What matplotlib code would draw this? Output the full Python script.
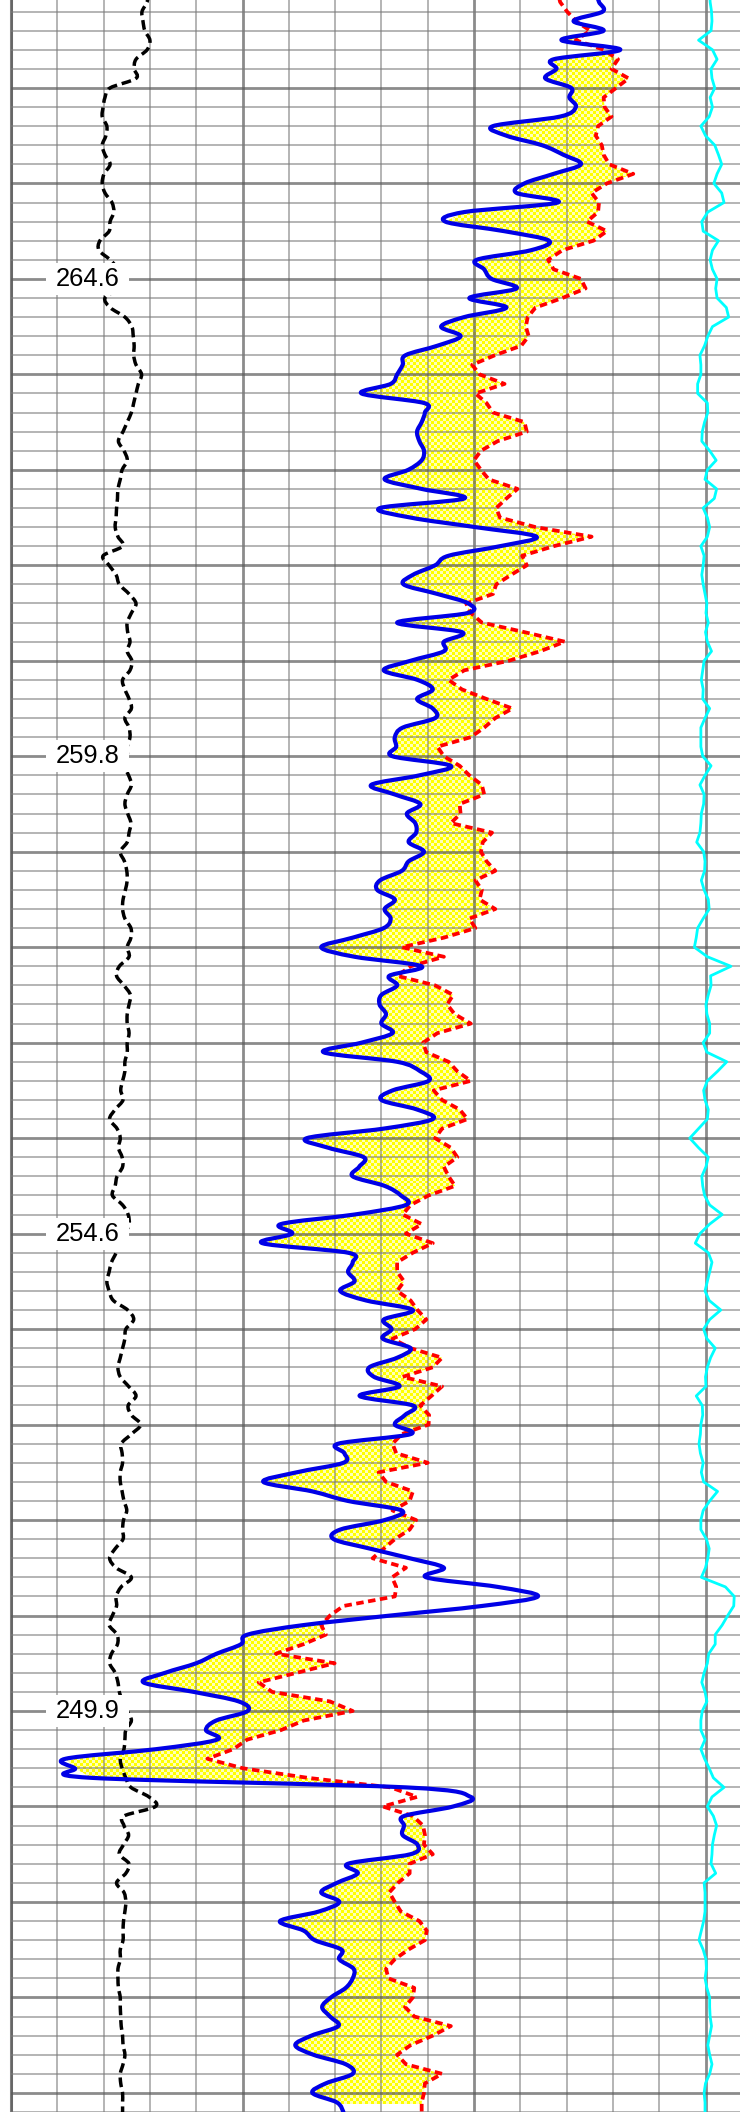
import numpy as np
import matplotlib.pyplot as plt
from matplotlib.colors import ListedColormap
from matplotlib.path import Path
from matplotlib.patches import PathPatch, Rectangle

# samples every 0.1 m, from 268.0 m at the top down to 245.8 m
top_md = 268.0
step = 0.1
n_samples = 223
depth = np.round(top_md - step * np.arange(n_samples), 1)

# curve values in track divisions (0 = left edge of the track)
blue = np.array([
    12.63, 12.70, 12.78, 12.15, 12.80, 11.89, 13.16, 11.72, 11.78, 11.54,
    12.10, 12.06, 12.20, 11.86, 10.41, 10.70, 11.47, 11.93, 12.31, 11.72,
    11.09, 10.92, 11.81, 9.79, 9.38, 10.65, 11.62, 11.23, 10.06, 10.22,
    10.38, 10.92, 9.90, 10.70, 9.79, 9.29, 9.71, 9.21, 8.52, 8.46,
    8.34, 8.20, 7.57, 8.92, 8.94, 8.87, 8.77, 8.82, 8.92, 8.87,
    8.58, 8.07, 8.87, 9.79, 7.97, 8.63, 10.03, 11.35, 10.56, 9.45,
    9.16, 8.68, 8.48, 9.21, 9.88, 9.86, 8.34, 9.74, 9.35, 9.35,
    8.63, 8.05, 8.78, 9.11, 8.77, 9.11, 9.16, 8.46, 8.29, 8.32,
    8.24, 9.50, 8.82, 7.78, 8.29, 8.84, 8.55, 8.73, 8.75, 8.59,
    8.92, 8.59, 8.44, 7.97, 7.91, 8.29, 8.07, 8.20, 8.05, 7.38,
    6.70, 7.42, 8.87, 8.17, 8.34, 8.00, 7.96, 8.10, 8.00, 8.24,
    7.57, 6.75, 8.34, 8.84, 9.02, 8.24, 8.00, 8.77, 9.11, 8.05,
    6.39, 6.85, 7.62, 7.52, 7.38, 8.07, 8.42, 8.53, 7.42, 5.83,
    6.07, 5.43, 7.28, 7.38, 7.28, 7.42, 7.11, 7.67, 8.68, 8.05,
    8.22, 8.03, 8.63, 8.34, 7.74, 7.84, 8.39, 7.53, 8.68, 8.51,
    8.29, 8.63, 7.07, 7.20, 7.18, 6.17, 5.45, 6.51, 7.28, 8.44,
    8.07, 7.11, 6.97, 7.76, 8.61, 9.35, 8.97, 10.51, 11.38, 10.17,
    8.20, 6.32, 5.11, 4.97, 4.44, 4.00, 3.33, 2.86, 3.95, 4.92,
    5.11, 4.43, 4.21, 4.45, 3.13, 1.18, 1.38, 1.74, 8.53, 9.93,
    9.55, 8.49, 8.49, 8.46, 8.78, 8.63, 7.28, 7.49, 7.04, 6.70,
    7.09, 6.65, 5.81, 6.32, 6.56, 7.14, 7.09, 7.40, 7.38, 7.23,
    6.91, 6.72, 6.89, 7.07, 6.49, 6.14, 6.53, 7.23, 7.38, 6.80,
    6.51, 7.04, 7.18])

red = np.array([
    11.81, 11.86, 12.01, 12.20, 12.51, 12.20, 12.80, 13.11, 12.97, 13.34,
    13.07, 12.80, 12.82, 12.97, 12.68, 12.63, 12.76, 12.80, 12.92, 13.44,
    12.87, 12.54, 12.70, 12.68, 12.44, 12.87, 12.58, 11.91, 11.60, 11.72,
    12.31, 12.41, 11.91, 11.33, 11.16, 11.12, 11.18, 11.02, 10.45, 9.96,
    10.12, 10.66, 10.03, 10.27, 10.41, 11.09, 11.14, 10.51, 10.15, 10.00,
    10.15, 10.32, 10.94, 10.70, 10.48, 10.56, 11.33, 12.54, 11.72, 11.04,
    11.14, 10.80, 10.48, 10.41, 9.83, 9.93, 10.17, 11.09, 11.96, 11.43,
    10.75, 9.79, 9.45, 9.74, 10.27, 10.83, 10.46, 10.22, 9.93, 9.21,
    9.35, 9.69, 9.90, 10.17, 10.22, 9.69, 9.71, 9.50, 10.39, 10.19,
    10.15, 10.27, 10.46, 10.03, 10.17, 10.12, 10.46, 9.90, 10.03, 9.35,
    8.44, 9.35, 8.63, 8.34, 9.16, 9.55, 9.42, 9.58, 9.93, 9.21,
    8.90, 8.97, 9.45, 9.64, 9.93, 9.13, 9.31, 9.69, 9.86, 9.31,
    9.16, 9.50, 9.64, 9.35, 9.45, 9.59, 9.02, 8.63, 8.46, 8.87,
    8.53, 9.11, 8.68, 8.34, 8.34, 8.49, 8.34, 8.63, 8.78, 8.97,
    8.73, 8.24, 8.63, 9.31, 9.11, 8.46, 9.31, 9.08, 8.84, 9.03,
    9.02, 8.44, 8.24, 8.32, 9.00, 7.94, 8.10, 8.68, 8.61, 8.24,
    8.75, 8.61, 8.29, 8.05, 7.81, 8.53, 8.23, 8.32, 8.29, 7.18,
    6.89, 6.70, 6.80, 6.32, 5.72, 6.99, 6.17, 5.35, 5.64, 6.89,
    7.38, 6.32, 5.83, 5.10, 4.80, 4.24, 5.01, 6.41, 8.20, 8.77,
    8.03, 8.68, 8.90, 8.94, 8.92, 9.11, 8.61, 8.61, 8.36, 8.17,
    8.29, 8.42, 8.82, 8.98, 8.94, 8.58, 8.29, 8.10, 8.15, 8.71,
    8.68, 8.51, 8.71, 9.50, 9.11, 8.63, 8.34, 8.53, 9.31, 8.94,
    8.92, 8.87, 8.87])

black = np.array([
    2.96, 2.94, 2.83, 2.85, 2.89, 3.00, 2.94, 2.70, 2.66, 2.70,
    2.14, 2.03, 1.99, 1.97, 2.07, 2.05, 1.97, 2.03, 2.14, 2.01,
    1.97, 2.03, 2.18, 2.22, 2.14, 2.12, 1.92, 1.90, 2.14, 2.31,
    2.35, 2.31, 2.03, 2.14, 2.46, 2.61, 2.64, 2.66, 2.65, 2.70,
    2.82, 2.75, 2.70, 2.65, 2.60, 2.51, 2.42, 2.32, 2.44, 2.51,
    2.40, 2.36, 2.31, 2.30, 2.28, 2.27, 2.25, 2.31, 2.41, 1.99,
    2.12, 2.27, 2.34, 2.55, 2.70, 2.60, 2.51, 2.52, 2.57, 2.51,
    2.61, 2.57, 2.41, 2.46, 2.55, 2.60, 2.46, 2.55, 2.57, 2.51,
    2.51, 2.44, 2.54, 2.60, 2.51, 2.46, 2.52, 2.59, 2.55, 2.51,
    2.36, 2.45, 2.50, 2.51, 2.47, 2.42, 2.41, 2.46, 2.59, 2.59,
    2.51, 2.55, 2.34, 2.28, 2.44, 2.58, 2.55, 2.51, 2.51, 2.55,
    2.51, 2.51, 2.46, 2.46, 2.41, 2.37, 2.42, 2.25, 2.13, 2.29,
    2.36, 2.32, 2.40, 2.41, 2.29, 2.25, 2.19, 2.41, 2.53, 2.55,
    2.46, 2.33, 2.27, 2.17, 2.12, 2.07, 2.12, 2.21, 2.52, 2.65,
    2.48, 2.46, 2.41, 2.36, 2.31, 2.36, 2.54, 2.70, 2.53, 2.60,
    2.80, 2.60, 2.38, 2.40, 2.41, 2.36, 2.36, 2.40, 2.44, 2.50,
    2.43, 2.41, 2.42, 2.25, 2.13, 2.27, 2.60, 2.38, 2.27, 2.28,
    2.19, 2.12, 2.29, 2.30, 2.17, 2.13, 2.25, 2.31, 2.34, 2.41,
    2.51, 2.60, 2.48, 2.46, 2.44, 2.36, 2.40, 2.48, 2.59, 2.98,
    3.12, 2.44, 2.44, 2.54, 2.43, 2.34, 2.55, 2.48, 2.28, 2.44,
    2.48, 2.46, 2.43, 2.42, 2.42, 2.36, 2.36, 2.31, 2.31, 2.32,
    2.36, 2.36, 2.37, 2.38, 2.41, 2.42, 2.46, 2.42, 2.36, 2.37,
    2.41, 2.41, 2.41])

cyan = np.array([
    15.09, 15.10, 15.13, 15.14, 15.12, 14.85, 15.15, 15.25, 15.12, 15.14,
    15.20, 15.10, 15.15, 15.08, 14.90, 15.00, 15.20, 15.28, 15.35, 15.25,
    15.18, 15.35, 15.40, 15.05, 14.92, 14.95, 15.28, 15.15, 15.10, 15.15,
    15.25, 15.22, 15.25, 15.45, 15.50, 15.15, 15.05, 14.98, 14.88, 14.90,
    14.90, 14.83, 14.83, 15.04, 15.05, 14.98, 14.93, 14.92, 15.09, 15.23,
    15.04, 14.99, 15.24, 15.19, 14.95, 15.04, 15.09, 15.04, 14.90, 14.97,
    14.95, 14.92, 14.95, 14.99, 15.03, 15.01, 15.06, 15.00, 15.04, 15.13,
    14.97, 14.94, 14.91, 14.95, 14.94, 15.09, 14.99, 14.90, 14.90, 14.90,
    14.94, 15.12, 14.99, 14.88, 14.97, 14.96, 14.91, 14.90, 14.88, 14.81,
    14.96, 14.99, 14.98, 14.91, 14.97, 15.06, 15.08, 14.95, 14.83, 14.80,
    14.76, 15.04, 15.55, 15.11, 15.12, 15.06, 15.01, 15.03, 15.09, 15.09,
    14.95, 15.03, 15.46, 15.26, 15.04, 14.96, 14.99, 15.06, 15.04, 14.85,
    14.66, 14.85, 15.06, 15.01, 14.92, 14.94, 14.98, 15.09, 15.36, 15.09,
    14.88, 14.78, 15.06, 15.14, 15.09, 15.04, 14.99, 15.08, 15.33, 15.09,
    14.96, 15.03, 15.21, 15.11, 15.04, 15.00, 15.01, 14.80, 14.93, 14.94,
    14.90, 14.89, 14.86, 14.89, 14.95, 14.91, 14.96, 15.26, 15.09, 14.95,
    14.90, 14.90, 15.02, 15.08, 15.05, 15.00, 14.91, 15.43, 15.62, 15.61,
    15.48, 15.36, 15.21, 15.21, 15.07, 15.04, 14.97, 14.92, 14.99, 15.03,
    14.93, 14.90, 14.90, 14.99, 14.90, 14.98, 15.08, 15.17, 15.40, 15.14,
    15.04, 15.17, 15.24, 15.19, 15.15, 15.14, 15.12, 15.22, 14.97, 14.99,
    14.99, 14.99, 14.96, 14.91, 14.86, 14.95, 15.01, 15.02, 14.99, 15.03,
    15.09, 15.09, 15.10, 15.13, 15.09, 15.05, 15.09, 15.14, 15.09, 15.00,
    14.97, 14.99, 14.99])

label_depths = [265, 260, 255, 250]
label_text = ['264.6', '259.8', '254.6', '249.9']


def smooth_path(x, y):
    # cubic bezier through every sample (catmull-rom style handles)
    pts = np.column_stack([x, y])
    prev = np.vstack([pts[:1], pts[:-1]])
    nxt = np.vstack([pts[1:], pts[-1:]])
    tang = (nxt - prev) / 6.0
    verts = [pts[0]]
    codes = [Path.MOVETO]
    for i in range(len(pts) - 1):
        verts += [pts[i] + tang[i], pts[i + 1] - tang[i + 1], pts[i + 1]]
        codes += [Path.CURVE4] * 3
    return Path(verts, codes)


W, H = 740, 2112
fig = plt.figure(figsize=(W / 100, H / 100), dpi=100)
left = 11 / W
ax = fig.add_axes([left, 0, 1 - left, 1])

px_x = 46.3   # pixels per track division
px_y = 95.86  # pixels per metre
xmax = (W - 11) / px_x
ymin, ymax = 245.889, 267.921

# yellow checker fill where red is to the right of blue
ny, nx = H // 3, 243
ii, jj = np.indices((ny, nx))
checker = (ii + jj) % 2
im = ax.imshow(checker, cmap=ListedColormap(['#ffffb8', '#ffff00']),
               extent=(0, xmax, ymin, ymax), interpolation='nearest',
               aspect='auto', zorder=1)
fill = ax.fill_betweenx(depth, blue, red, where=red > blue, interpolate=True,
                        facecolor='none', edgecolor='none')
clip = Path.make_compound_path(*fill.get_paths())
im.set_clip_path(clip, ax.transData)

ax.set_xlim(0, xmax)
ax.set_ylim(ymin, ymax)

ax.set_xticks(np.arange(0, 16, 5))
ax.set_xticks(np.arange(0, 16, 1), minor=True)
ax.set_yticks(np.arange(246, 268, 1))
ax.set_yticks(np.round(np.arange(245.8, 268.0, 0.2), 1), minor=True)
ax.grid(which='major', color='#5a5a5a', alpha=0.7, lw=2.0, zorder=2)
ax.grid(which='minor', color='#7a7a7a', alpha=0.6, lw=1.3, zorder=2)
ax.set_axisbelow(False)
ax.tick_params(which='both', length=0, labelleft=False, labelbottom=False)
for s in ['top', 'right', 'bottom']:
    ax.spines[s].set_visible(False)
ax.spines['left'].set_color('#808080')
ax.spines['left'].set_linewidth(2.2)

ax.plot(cyan, depth, color='#00ffff', lw=2.0, zorder=4)
ax.add_patch(PathPatch(smooth_path(black, depth), fill=False, edgecolor='black',
                       lw=2.5, ls=(0, (2.8, 1.4)), zorder=4))
ax.plot(red, depth, color='#ff0000', lw=2.7, ls=(0, (2, 1.2)), zorder=5)
ax.add_patch(PathPatch(smooth_path(blue, depth), fill=False, edgecolor='#0000e6',
                       lw=3.0, joinstyle='round', capstyle='round', zorder=6))

# depth labels on white boxes breaking the grid line
box_w, box_h = 83 / px_x, 32 / px_y
lab_x = (87.5 - 11) / px_x
for d, t in zip(label_depths, label_text):
    ax.add_patch(Rectangle((lab_x - box_w / 2, d - box_h / 2), box_w, box_h,
                           facecolor='white', edgecolor='none', zorder=9))
    ax.text(lab_x, d, t, fontsize=18.4, family='Liberation Sans',
            ha='center', va='center', zorder=10)

fig.savefig('out.png', dpi=100)
